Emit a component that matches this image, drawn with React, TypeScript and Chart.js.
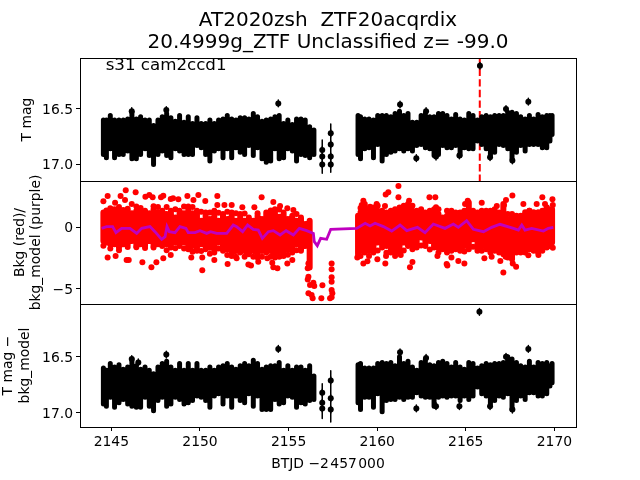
import React, { useEffect, useRef } from "react";
import { Chart, registerables } from "chart.js";

Chart.register(...registerables);

const titleLines = ["AT2020zsh  ZTF20acqrdix", "20.4999g_ZTF Unclassified z= -99.0"];
const sectorLabel = "s31 cam2ccd1";
const xAxisLabel = "BTJD \u22122\u200A457\u200A000";
const xTicks = [2145, 2150, 2155, 2160, 2165, 2170];
const magTicks = [16.5, 17.0];
const bkgTicks = [0, -5];
const eventTime = 2165.79;

const leftX = [2144.55,2144.72,2144.94,2145.18,2145.43,2145.67,2145.92,2146.16,2146.41,2146.65,2146.90,2147.14,2147.38,2147.63,2147.87,2148.12,2148.36,2148.61,2148.85,2149.10,2149.34,2149.58,2149.83,2150.07,2150.32,2150.56,2150.81,2151.05,2151.30,2151.54,2151.79,2152.03,2152.27,2152.52,2152.76,2153.01,2153.25,2153.50,2153.74,2153.99,2154.23,2154.47,2154.72,2154.96,2155.21,2155.45,2155.70,2155.94,2156.19,2156.43];
const rightX = [2158.92,2159.06,2159.30,2159.54,2159.79,2160.03,2160.28,2160.52,2160.77,2161.01,2161.26,2161.50,2161.74,2161.99,2162.23,2162.48,2162.72,2162.97,2163.21,2163.46,2163.70,2163.94,2164.19,2164.43,2164.68,2164.92,2165.17,2165.41,2165.66,2165.90,2166.15,2166.39,2166.63,2166.88,2167.12,2167.37,2167.61,2167.86,2168.10,2168.35,2168.59,2168.83,2169.08,2169.32,2169.57,2169.75,2169.87];

const magLeftHi = [16.60,16.60,16.56,16.60,16.60,16.60,16.59,16.53,16.59,16.57,16.60,16.60,16.65,16.60,16.57,16.54,16.58,16.61,16.56,16.62,16.57,16.63,16.58,16.63,16.63,16.60,16.63,16.60,16.59,16.56,16.59,16.60,16.58,16.58,16.59,16.54,16.57,16.61,16.60,16.59,16.57,16.56,16.63,16.60,16.64,16.59,16.59,16.60,16.66,16.69];
const magLeftLo = [16.91,16.94,16.86,16.94,16.91,16.91,16.88,16.95,16.95,16.91,16.86,16.92,17.00,16.91,16.88,16.92,16.94,16.86,16.88,16.91,16.91,16.91,16.83,16.85,16.91,16.97,16.88,16.86,16.94,16.86,16.94,16.85,16.89,16.91,16.83,16.92,16.85,16.95,16.98,16.97,16.86,16.95,16.94,16.86,16.88,16.97,16.91,16.92,16.94,16.91];
const magRightHi = [16.56,16.57,16.59,16.59,16.60,16.56,16.56,16.56,16.57,16.54,16.52,16.56,16.54,16.62,16.62,16.56,16.54,16.57,16.57,16.54,16.54,16.56,16.59,16.55,16.59,16.60,16.54,16.56,16.60,16.57,16.56,16.57,16.56,16.56,16.56,16.53,16.53,16.54,16.57,16.59,16.56,16.59,16.55,16.57,16.56,16.56,16.56];
const magRightLo = [16.91,16.95,16.86,16.85,16.94,16.82,16.97,16.91,16.89,16.88,16.86,16.88,16.86,16.88,16.83,16.82,16.85,16.86,16.92,16.91,16.83,16.85,16.85,16.83,16.92,16.85,16.86,16.86,16.79,16.82,16.86,16.92,16.89,16.82,16.83,16.86,16.95,16.89,16.83,16.88,16.82,16.82,16.82,16.85,16.85,16.79,16.73];
const magOutliers = [[2165.8,16.11],[2168.53,16.434],[2161.29,16.46],[2167.27,16.5],[2162.76,16.52],[2148.1,16.51],[2154.42,16.45],[2146.15,16.52],[2162.21,16.944],[2163.32,16.93],[2164.64,16.92],[2166.37,16.935],[2167.63,16.965],[2156.9,16.87],[2156.9,17.0],[2156.9,16.93],[2157.38,16.72],[2157.38,16.82],[2157.38,16.93],[2157.38,17.0]];
const magStems = [[2156.9,16.78,17.08],[2157.38,16.635,17.07]];

const detLeftHi = [16.60,16.62,16.56,16.59,16.57,16.61,16.59,16.52,16.58,16.61,16.59,16.62,16.65,16.59,16.56,16.54,16.59,16.62,16.56,16.62,16.56,16.62,16.56,16.62,16.62,16.59,16.62,16.59,16.58,16.56,16.59,16.61,16.58,16.56,16.58,16.53,16.56,16.61,16.59,16.58,16.58,16.55,16.62,16.58,16.62,16.59,16.59,16.62,16.58,16.67];
const detLeftLo = [16.92,16.94,16.86,16.95,16.91,16.88,16.92,16.94,16.95,16.95,16.86,16.94,16.98,16.89,16.86,16.94,16.92,16.86,16.88,16.92,16.91,16.89,16.85,16.86,16.89,16.95,16.85,16.83,16.92,16.85,16.95,16.85,16.89,16.91,16.83,16.94,16.85,16.97,16.97,16.97,16.88,16.92,16.91,16.85,16.86,16.95,16.91,16.92,16.89,16.88];
const detRightHi = [16.57,16.56,16.60,16.60,16.60,16.56,16.55,16.56,16.55,16.58,16.50,16.56,16.54,16.59,16.62,16.55,16.52,16.57,16.58,16.55,16.54,16.56,16.59,16.55,16.59,16.61,16.55,16.56,16.60,16.58,16.56,16.57,16.56,16.56,16.55,16.50,16.52,16.55,16.58,16.59,16.54,16.59,16.55,16.56,16.55,16.58,16.56];
const detRightLo = [16.91,16.97,16.86,16.86,16.95,16.83,16.99,16.89,16.88,16.88,16.86,16.88,16.86,16.86,16.82,16.85,16.86,16.86,16.94,16.86,16.85,16.86,16.85,16.85,16.89,16.85,16.88,16.85,16.77,16.83,16.85,16.92,16.89,16.85,16.86,16.83,16.97,16.89,16.85,16.88,16.82,16.82,16.85,16.85,16.83,16.76,16.73];
const detOutliers = [[2165.77,16.10],[2168.53,16.43],[2161.29,16.46],[2167.27,16.50],[2162.76,16.51],[2148.1,16.48],[2154.42,16.43],[2146.15,16.52],[2146.52,16.55],[2162.21,16.96],[2163.32,16.94],[2164.64,16.94],[2166.37,16.94],[2167.63,16.97],[2156.9,16.82],[2156.9,16.91],[2156.9,16.96],[2157.38,16.71],[2157.38,16.87],[2157.38,16.97]];
const detStems = [[2156.9,16.74,17.05],[2157.38,16.625,17.08]];

const bkgLeftHi = [1.18,0.92,1.32,1.11,1.32,1.38,1.32,1.11,1.32,1.19,1.32,1.11,1.45,1.19,1.32,1.05,1.32,0.78,1.32,1.11,1.67,1.11,1.32,0.51,1.18,0.65,1.32,0.51,1.05,0.65,1.18,0.51,1.05,0.51,0.77,0.51,0.91,0.65,1.18,0.92,1.45,0.84,1.18,0.65,0.91,0.51,0.77,0.24,0.50];
const bkgLeftLo = [-1.13,-1.27,-1.40,-1.41,-1.67,-1.41,-1.40,-1.14,-1.54,-1.41,-1.54,-1.14,-1.54,-1.41,-1.54,-1.41,-1.67,-1.27,-1.54,-1.27,-1.81,-1.54,-1.94,-1.41,-1.81,-1.68,-2.08,-1.27,-1.94,-1.81,-2.35,-1.95,-2.08,-1.95,-2.21,-1.95,-2.48,-1.95,-2.08,-1.95,-2.48,-1.95,-2.35,-1.81,-2.08,-1.41,-1.94,-1.54,-3.30];
const bkgRightHi = [0.91,1.19,1.86,1.05,1.59,1.32,1.32,0.78,1.32,1.05,1.59,1.32,1.86,1.32,1.32,1.05,1.18,0.92,1.45,1.05,0.77,0.92,1.32,0.78,1.18,1.32,1.99,0.92,1.18,1.32,1.32,0.92,1.45,0.78,1.86,0.65,1.05,0.51,0.91,1.19,1.32,1.19,1.18,1.32,1.59,1.19,1.45];
const bkgRightLo = [-2.21,-1.95,-2.08,-1.95,-2.08,-1.27,-1.67,-1.54,-2.08,-1.68,-2.08,-1.27,-1.54,-1.41,-1.67,-0.86,-1.54,-1.14,-1.67,-1.68,-1.81,-1.68,-1.94,-1.41,-1.94,-1.54,-1.81,-1.00,-1.94,-1.54,-1.81,-1.68,-1.94,-1.68,-2.21,-2.08,-2.62,-1.68,-2.08,-1.68,-1.81,-1.54,-2.08,-1.54,-1.67,-1.14,-1.26];
const bkgPoints = [[2145.81,2.98],[2144.79,2.52],[2145.52,2.52],[2146.37,2.82],[2145.77,2.19],[2146.92,2.46],[2147.14,2.60],[2147.33,2.41],[2147.80,2.41],[2147.93,2.55],[2148.35,2.28],[2148.48,2.33],[2148.78,2.25],[2149.29,2.52],[2149.91,2.60],[2150.98,2.52],[2149.63,2.19],[2150.30,2.11],[2153.48,2.41],[2144.55,2.09],[2145.21,1.98],[2146.15,1.87],[2150.98,1.79],[2151.38,1.79],[2151.79,1.79],[2152.39,1.60],[2153.07,1.60],[2154.14,2.03],[2154.52,1.71],[2154.93,1.52],[2155.27,1.38],
[2144.72,1.35],[2144.94,1.52],[2145.18,1.45],[2145.43,1.62],[2145.92,1.48],[2146.41,1.66],[2146.65,1.55],[2147.38,1.68],[2147.63,1.62],[2148.12,1.62],[2148.61,1.45],[2149.10,1.66],[2149.58,1.62],[2150.07,1.25],[2150.56,1.18],[2151.05,1.15],[2151.54,1.25],[2152.03,1.12],[2152.52,1.1],[2153.25,1.12],[2153.99,1.35],[2154.47,1.42],[2155.45,1.05],
[2144.55,-1.52],[2144.79,-2.47],[2145.24,-2.36],[2145.86,-2.68],[2145.98,-2.68],[2146.75,-2.87],[2147.26,-3.28],[2147.54,-2.87],[2147.93,-2.55],[2148.35,-2.28],[2149.51,-2.47],[2150.13,-2.47],[2150.13,-3.52],[2150.81,-2.68],[2151.56,-3.01],[2152.73,-3.04],[2152.88,-3.12],[2153.29,-2.82],[2153.80,-2.55],[2154.14,-3.28],[2154.37,-3.36],[2154.08,-2.90],[2154.93,-2.96],[2155.21,-2.68],[2154.52,-2.36],[2152.07,-2.55],
[2144.94,-1.75],[2145.43,-1.9],[2145.92,-1.62],[2146.41,-1.65],[2146.90,-1.7],[2147.38,-1.66],[2148.12,-1.88],[2148.61,-1.72],[2149.10,-1.75],[2149.58,-2.02],[2150.07,-1.95],[2150.56,-2.18],[2151.05,-1.75],[2151.54,-2.28],[2152.03,-2.42],[2152.52,-2.42],[2153.01,-2.42],[2153.50,-2.42],[2153.99,-2.42],[2154.47,-2.42],[2154.96,-2.25],[2155.45,-1.88],
[2156.12,-2.96],[2156.08,-3.36],[2156.12,-4.04],[2156.08,-4.26],[2156.40,-4.53],[2156.21,-4.72],[2156.45,-4.80],[2156.12,-5.39],[2156.30,-5.53],[2156.36,-5.80],[2156.91,-4.74],[2156.85,-5.80],[2157.43,-2.96],[2157.43,-3.44],[2157.43,-4.09],[2157.43,-4.45],[2157.43,-5.12],[2157.47,-5.39],[2157.34,-5.80],[2157.43,-5.72],
[2161.20,3.33],[2160.48,2.65],[2160.63,2.82],[2161.20,2.41],[2162.95,2.41],[2163.28,2.41],[2167.63,2.57],[2169.32,2.41],[2169.89,2.25],[2167.27,2.19],[2159.22,2.14],[2159.13,1.79],[2159.60,1.65],[2159.97,1.87],[2160.44,1.71],[2161.80,2.14],[2163.32,1.60],[2165.90,1.98],[2164.96,1.87],[2165.11,2.14],[2166.75,1.71],[2167.16,1.79],[2168.25,1.87],[2169.00,1.87],[2169.47,1.87],[2169.91,1.79],
[2159.06,1.55],[2159.54,1.45],[2160.03,1.72],[2160.52,1.18],[2161.01,1.45],[2161.50,1.72],[2161.99,1.72],[2162.48,1.45],[2162.97,1.32],[2163.46,1.45],[2163.94,1.32],[2164.43,1.18],[2165.41,1.32],[2166.39,1.32],[2166.88,1.18],[2167.37,1.05],[2167.86,0.91],[2168.59,1.32],[2169.08,1.18],[2169.57,1.59],
[2158.88,-2.47],[2159.22,-2.96],[2159.45,-2.79],[2160.01,-2.63],[2160.46,-2.96],[2160.50,-2.36],[2161.01,-2.36],[2161.33,-2.28],[2161.99,-2.85],[2161.85,-3.28],[2163.40,-2.36],[2163.92,-3.01],[2163.96,-3.12],[2164.58,-2.77],[2164.92,-2.96],[2164.19,-2.47],[2166.05,-2.55],[2166.46,-2.41],[2166.95,-2.77],[2167.12,-3.69],[2167.65,-2.96],[2167.84,-3.23],[2167.25,-2.41],[2168.53,-2.30],[2169.10,-2.28],[2169.91,-1.68],
[2159.06,-2.35],[2159.54,-2.35],[2160.03,-1.92],[2160.52,-2.1],[2161.01,-2.08],[2161.50,-1.92],[2161.99,-1.81],[2162.48,-1.5],[2162.97,-1.82],[2163.46,-2.08],[2163.94,-2.08],[2164.43,-1.81],[2164.92,-2.0],[2165.41,-1.6],[2165.90,-1.94],[2166.39,-2.08],[2166.88,-2.08],[2167.37,-2.48],[2167.86,-2.08],[2168.35,-2.08],[2168.83,-1.94],[2169.32,-1.94],[2169.75,-1.54]];
const bkgModel = [[2144.45,-0.11],[2144.73,0.03],[2145.07,0.03],[2145.26,-0.46],[2145.58,-0.11],[2146.05,-0.11],[2146.43,-0.52],[2146.71,-0.11],[2147.18,0.03],[2147.46,-0.38],[2147.84,-1.0],[2148.03,-0.79],[2148.14,0.03],[2148.27,-0.38],[2148.59,-0.46],[2148.87,0.03],[2149.21,-0.11],[2149.34,-0.46],[2149.72,-0.46],[2150.0,-0.30],[2150.38,-0.52],[2150.60,-0.38],[2150.94,-0.52],[2151.51,-0.52],[2151.88,0.16],[2152.07,0.03],[2152.41,-0.38],[2152.69,0.16],[2153.01,-0.19],[2153.29,-0.25],[2153.52,-0.92],[2153.86,-0.38],[2154.14,-0.30],[2154.52,-0.65],[2154.86,-0.30],[2155.27,-0.65],[2155.61,-0.11],[2156.02,-0.30],[2156.40,-0.52],[2156.45,-1.19],[2156.62,-1.52],[2156.81,-0.92],[2157.15,-1.0],[2157.38,-0.19],[2158.84,-0.11],[2159.32,0.30],[2159.60,0.08],[2159.88,0.30],[2160.35,0.03],[2160.82,-0.33],[2161.29,0.16],[2161.67,-0.30],[2162.27,-0.03],[2162.70,-0.46],[2163.17,0.24],[2163.83,-0.11],[2164.30,0.24],[2164.58,-0.03],[2165.05,0.51],[2165.43,-0.19],[2166.0,-0.38],[2166.46,-0.03],[2166.93,0.22],[2167.69,-0.11],[2167.97,-0.25],[2168.16,0.16],[2168.34,-0.25],[2168.72,-0.11],[2169.38,-0.33],[2169.66,-0.11],[2169.94,-0.03]];

const errHalf = 0.03;
const X_MIN = 2143.23;
const X_MAX = 2171.22;
const MAG_TOP = 16.04;
const MAG_BOTTOM = 17.15;
const BKG_TOP = 3.74;
const BKG_BOTTOM = -6.26;
const DET_TOP = 16.03;
const DET_BOTTOM = 17.125;

const FONT = "'DejaVu Sans'";

function bars(xs: number[], hi: number[], lo: number[]) {
  const out: { x: number; y: number }[] = [];
  for (let i = 0; i < xs.length && i < hi.length && i < lo.length; i++) {
    out.push({ x: xs[i], y: hi[i] }, { x: xs[i], y: lo[i] }, { x: xs[i], y: NaN });
  }
  return out;
}
function stems(rows: number[][]) {
  return bars(rows.map((r) => r[0]), rows.map((r) => r[1]), rows.map((r) => r[2]));
}
function errs(rows: number[][]) {
  return bars(rows.map((r) => r[0]), rows.map((r) => r[1] - errHalf), rows.map((r) => r[1] + errHalf));
}
const pts = (rows: number[][]) => rows.map((r) => ({ x: r[0], y: r[1] }));

const bandStyle = (color: string, width: number) => ({
  showLine: true,
  borderColor: color,
  borderWidth: width,
  borderCapStyle: "round",
  pointRadius: 0,
  spanGaps: false,
});
const dotStyle = (color: string, radius: number) => ({
  showLine: false,
  backgroundColor: color,
  borderWidth: 0,
  pointRadius: radius,
  pointBorderWidth: 0,
});

const framePlugin = {
  id: "frames",
  afterDraw(chart: any) {
    const { ctx, scales } = chart;
    ctx.save();
    ctx.strokeStyle = "#000";
    ctx.lineWidth = 1;
    ["y1", "y2", "y3"].forEach((id) => {
      const s = scales[id];
      ctx.strokeRect(
        Math.round(scales.x.left) + 0.5,
        Math.round(s.top) + 0.5,
        Math.round(scales.x.right - scales.x.left),
        Math.round(s.bottom - s.top)
      );
    });
    ctx.fillStyle = "#000";
    ctx.font = `16.67px ${FONT}`;
    ctx.textBaseline = "alphabetic";
    ctx.textAlign = "left";
    ctx.fillText(sectorLabel, scales.x.getPixelForValue(2144.68), scales.y1.getPixelForValue(16.15));
    ctx.restore();
  },
};

const yAxis = (
  lo: number,
  hi: number,
  ticks: number[],
  fmt: (v: number) => string,
  text: string | string[],
  pad: number,
  reverse: boolean,
  lineHeight: number
) => ({
  type: "linear",
  position: "left",
  stack: "panels",
  stackWeight: 1,
  min: Math.min(lo, hi),
  max: Math.max(lo, hi),
  reverse,
  afterBuildTicks(axis: any) {
    axis.ticks = ticks.map((value) => ({ value }));
  },
  afterFit(axis: any) {
    axis.width = 80;
  },
  grid: { drawOnChartArea: false, drawTicks: true, tickLength: 4, tickColor: "#000", tickWidth: 1 },
  border: { display: false },
  ticks: {
    color: "#000",
    padding: 3,
    labelOffset: 1.5,
    font: { family: FONT, size: 13.9 },
    callback: (v: any) => fmt(Number(v)),
  },
  title: {
    display: true,
    text,
    color: "#000",
    font: { family: FONT, size: 13.9, lineHeight: lineHeight / 13.9 },
    padding: { top: pad, bottom: 0 },
  },
});

export default function App() {
  const ref = useRef<HTMLCanvasElement>(null);
  useEffect(() => {
    if (!ref.current) return;
    const chart = new Chart(ref.current, {
      type: "scatter",
      plugins: [framePlugin],
      data: {
        datasets: [
          { ...bandStyle("#bf00bf", 2.8), data: pts(bkgModel), yAxisID: "y2", order: 1, borderCapStyle: "butt" },
          { ...dotStyle("#f00", 3), data: pts(bkgPoints), yAxisID: "y2", order: 3 },
          { ...bandStyle("#f00", 6), data: bars(leftX, bkgLeftHi, bkgLeftLo), yAxisID: "y2", order: 3 },
          { ...bandStyle("#f00", 6), data: bars(rightX, bkgRightHi, bkgRightLo), yAxisID: "y2", order: 3 },

          { ...dotStyle("#000", 3), data: pts(magOutliers), yAxisID: "y1", order: 2 },
          { ...bandStyle("#000", 1.5), data: errs(magOutliers), yAxisID: "y1", order: 2 },
          { ...bandStyle("#000", 1.5), data: stems(magStems), yAxisID: "y1", order: 2 },
          { ...bandStyle("#000", 5), data: bars(leftX, magLeftHi, magLeftLo), yAxisID: "y1", order: 2 },
          { ...bandStyle("#000", 5), data: bars(rightX, magRightHi, magRightLo), yAxisID: "y1", order: 2 },
          {
            ...bandStyle("#f00", 2),
            borderCapStyle: "butt",
            borderDash: [7.4, 3.2],
            data: [{ x: eventTime, y: MAG_TOP }, { x: eventTime, y: MAG_BOTTOM }],
            yAxisID: "y1",
            order: 5,
          },

          { ...dotStyle("#000", 3), data: pts(detOutliers), yAxisID: "y3", order: 2 },
          { ...bandStyle("#000", 1.5), data: errs(detOutliers), yAxisID: "y3", order: 2 },
          { ...bandStyle("#000", 1.5), data: stems(detStems), yAxisID: "y3", order: 2 },
          { ...bandStyle("#000", 5), data: bars(leftX, detLeftHi, detLeftLo), yAxisID: "y3", order: 2 },
          { ...bandStyle("#000", 5), data: bars(rightX, detRightHi, detRightLo), yAxisID: "y3", order: 2 },
        ] as any,
      },
      options: {
        responsive: false,
        animation: false,
        layout: { padding: { left: 0, right: 64, top: 0, bottom: 0 } },
        plugins: {
          legend: { display: false },
          tooltip: { enabled: false },
          title: {
            display: true,
            text: titleLines,
            color: "#000",
            fullSize: false,
            font: { family: FONT, size: 20, weight: "normal", lineHeight: 1.1 },
            padding: { top: 10, bottom: 4 },
          },
        },
        scales: {
          x: {
            type: "linear",
            position: "bottom",
            min: X_MIN,
            max: X_MAX,
            afterBuildTicks(axis: any) {
              axis.ticks = xTicks.map((value) => ({ value }));
            },
            afterFit(axis: any) {
              axis.height = 53;
            },
            grid: { drawOnChartArea: false, drawTicks: true, tickLength: 4, tickColor: "#000", tickWidth: 1 },
            border: { display: false },
            ticks: {
              color: "#000",
              maxRotation: 0,
              padding: 3,
              font: { family: FONT, size: 13.9 },
              callback: (v: any) => String(v),
            },
            title: {
              display: true,
              text: xAxisLabel,
              color: "#000",
              font: { family: FONT, size: 13.9 },
              padding: { top: 2, bottom: 7 },
            },
          },
          y3: yAxis(DET_TOP, DET_BOTTOM, magTicks, (v) => v.toFixed(1), ["T mag \u2212", "bkg_model"], 0, true, 17),
          y2: yAxis(BKG_BOTTOM, BKG_TOP, bkgTicks, (v) => v.toFixed(0).replace("-", "\u2212"), ["Bkg (red)/", "bkg_model (purple)"], 12, false, 16),
          y1: yAxis(MAG_TOP, MAG_BOTTOM, magTicks, (v) => v.toFixed(1), "T mag", 19, true, 16),
        } as any,
      },
    } as any);
    return () => chart.destroy();
  }, []);
  return (
    <div style={{ position: "absolute", left: 0, top: 0, width: 640, height: 480, background: "#fff" }}>
      <canvas ref={ref} width={640} height={480} style={{ display: "block" }} />
    </div>
  );
}
